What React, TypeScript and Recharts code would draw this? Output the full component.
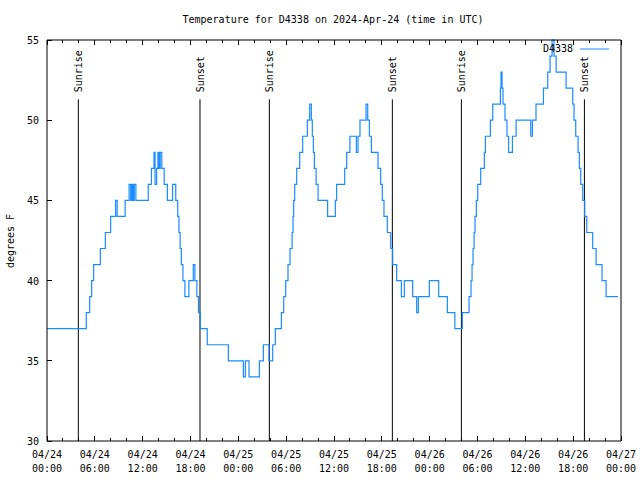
import { LineChart, Line, XAxis, YAxis, ReferenceLine, Legend } from "recharts";

// hours since 2024-04-24 00:00 UTC where the reading changes, and the reading (deg F)
const hours = [
  0, 4.93, 5.35, 5.6, 5.85, 6.69, 7.32, 7.98, 8.61, 8.8, 9.8, 10.3, 10.5, 10.65, 10.8, 10.95, 11.15,
  12.7, 13.1, 13.42, 13.55, 13.75, 13.92, 14.05, 14.2, 14.4, 14.7, 15.1, 15.75, 16.15, 16.4, 16.55,
  16.7, 16.85, 17.05, 17.3, 17.8, 18.35, 18.55, 18.8, 19.0, 19.25, 20.1, 22.75,
  24.63, 24.88, 25.34, 26.64, 27.14, 27.85, 28.31, 28.64, 29.4, 29.69, 29.94, 30.23, 30.48, 30.74,
  30.86, 30.94, 31.07, 31.32, 31.7, 32.07, 32.66, 32.95, 33.16, 33.28, 33.41, 33.54, 33.75, 34.0,
  35.2, 36.17, 36.33, 37.34, 37.59, 38.0, 38.8, 39.01, 39.26, 40.02, 40.23, 40.44, 40.69, 41.52,
  41.85, 42.06, 42.27, 42.69, 43.11, 43.36, 43.86, 44.45, 44.82, 45.87, 46.37, 46.58, 47.96,
  49.13, 50.22, 51.16, 52.1, 52.94, 53.19, 53.32, 53.44, 53.57, 53.69, 53.86, 54.03, 54.4, 54.86,
  54.99, 55.62, 55.91, 56.87, 56.95, 57.08, 57.2, 57.45, 57.7, 57.9, 58.38, 58.84, 60.68, 60.89,
  61.34, 62.27, 62.81, 63.1, 63.35, 63.6, 63.86, 65.11, 65.95, 66.11, 66.32, 66.61, 66.78, 66.95,
  67.2, 67.45, 67.7, 68.45, 68.87, 69.62, 70.13, 71.63,
];
const temps = [
  37, 38, 39, 40, 41, 42, 43, 44, 45, 44, 45, 46, 45, 46, 45, 46, 45,
  46, 47, 48, 46, 47, 48, 47, 48, 47, 46, 45, 46, 45, 44, 43,
  42, 41, 40, 39, 40, 41, 40, 39, 38, 37, 36, 35,
  34, 35, 34, 35, 36, 35, 36, 37, 38, 39, 40, 41, 42, 43,
  44, 45, 46, 47, 48, 49, 50, 51, 50, 49, 48, 47, 46, 45,
  44, 45, 46, 47, 48, 49, 48, 49, 50, 51, 50, 49, 48, 47,
  46, 45, 44, 43, 42, 41, 40, 39, 40, 39, 38, 39, 40,
  39, 38, 37, 38, 39, 40, 41, 42, 43, 44, 45, 46, 47, 48,
  49, 50, 51, 52, 53, 52, 51, 50, 49, 48, 49, 50, 49, 50,
  51, 52, 53, 54, 55, 54, 53, 52, 51, 50, 49, 48, 47, 46,
  45, 44, 43, 42, 41, 40, 39, 39,
];

const sunHours = [3.93, 19.19, 27.89, 43.32, 51.98, 67.41];
const sunNames = ["Sunrise", "Sunset", "Sunrise", "Sunset", "Sunrise", "Sunset"];

const xTicks = Array.from({ length: 37 }, (_, i) => i * 2);
const majorTicks = [0, 6, 12, 18, 24, 30, 36, 42, 48, 54, 60, 66, 72];
const dateLabels = ["04/24", "04/24", "04/24", "04/24", "04/25", "04/25", "04/25", "04/25", "04/26", "04/26", "04/26", "04/26", "04/27"];
const timeLabels = ["00:00", "06:00", "12:00", "18:00", "00:00", "06:00", "12:00", "18:00", "00:00", "06:00", "12:00", "18:00", "00:00"];
const yTicks = [30, 35, 40, 45, 50, 55];

const data = hours.map((h, i) => ({ h, t: temps[i] }));

const FONT = "'DejaVu Sans Mono', monospace";
const BLUE = "#1a8cff";
const markerTop = 51.3;

function BottomTick({ x, y, payload }: any) {
  const i = majorTicks.indexOf(payload.value);
  return (
    <g>
      <line x1={x} x2={x} y1={y} y2={y - (i >= 0 ? 5 : 3)} stroke="#000" shapeRendering="crispEdges" />
      {i >= 0 && (
        <text x={x} y={y + 17} textAnchor="middle" fontSize={10} fontFamily={FONT} fill="#000">
          <tspan x={x}>{dateLabels[i]}</tspan>
          <tspan x={x} dy={14}>{timeLabels[i]}</tspan>
        </text>
      )}
    </g>
  );
}

function TopTick({ x, y, payload }: any) {
  const major = majorTicks.includes(payload.value);
  return <line x1={x} x2={x} y1={y} y2={y + (major ? 5 : 3)} stroke="#000" shapeRendering="crispEdges" />;
}

function LeftTick({ x, y, payload }: any) {
  return (
    <g>
      <line x1={x} x2={x + 5} y1={y} y2={y} stroke="#000" shapeRendering="crispEdges" />
      <text x={x - 8} y={y + 4} textAnchor="end" fontSize={10} fontFamily={FONT} fill="#000">
        {payload.value}
      </text>
    </g>
  );
}

function RightTick({ x, y }: any) {
  return <line x1={x} x2={x - 5} y1={y} y2={y} stroke="#000" shapeRendering="crispEdges" />;
}

function sunLabel(text: string) {
  return (props: any) => {
    const vb = props.viewBox || {};
    return (
      <text
        transform={`translate(${vb.x + 4},${vb.y - 7}) rotate(-90)`}
        fontSize={10}
        fontFamily={FONT}
        fill="#000"
      >
        {text}
      </text>
    );
  };
}

function LegendBox() {
  return (
    <div style={{ display: "flex", alignItems: "center", fontFamily: FONT, fontSize: 10, color: "#000" }}>
      <span>D4338</span>
      <svg width={36} height={10} style={{ marginLeft: 6 }}>
        <line x1={1} x2={30} y1={5} y2={5} stroke={BLUE} />
      </svg>
    </div>
  );
}

export default function App() {
  return (
    <div style={{ position: "absolute", left: 0, top: 0, width: 640, height: 480, background: "#fff" }}>
      <LineChart width={640} height={480} data={data} margin={{ top: 39, right: 18, bottom: 38, left: 46 }}>
        <XAxis
          xAxisId="bottom"
          dataKey="h"
          type="number"
          domain={[0, 72]}
          ticks={xTicks}
          interval={0}
          height={1}
          tickSize={0}
          tickMargin={0}
          tickLine={false}
          tick={BottomTick}
          axisLine={{ stroke: "#000" }}
        />
        <XAxis
          xAxisId="top"
          orientation="top"
          dataKey="h"
          type="number"
          domain={[0, 72]}
          ticks={xTicks}
          interval={0}
          height={1}
          tickSize={0}
          tickMargin={0}
          tickLine={false}
          tick={TopTick}
          axisLine={{ stroke: "#000" }}
        />
        <YAxis
          yAxisId="left"
          type="number"
          domain={[30, 55]}
          ticks={yTicks}
          interval={0}
          width={1}
          tickSize={0}
          tickMargin={0}
          tickLine={false}
          tick={LeftTick}
          axisLine={{ stroke: "#000" }}
        />
        <YAxis
          yAxisId="right"
          orientation="right"
          type="number"
          domain={[30, 55]}
          ticks={yTicks}
          interval={0}
          width={1}
          tickSize={0}
          tickMargin={0}
          tickLine={false}
          tick={RightTick}
          axisLine={{ stroke: "#000" }}
        />
        {sunHours.map((h, i) => (
          <ReferenceLine
            key={i}
            xAxisId="bottom"
            yAxisId="left"
            segment={[{ x: h, y: 30 }, { x: h, y: markerTop }]}
            stroke="#000"
            strokeWidth={1}
            label={sunLabel(sunNames[i])}
          />
        ))}
        <Line
          xAxisId="bottom"
          yAxisId="left"
          type="stepAfter"
          dataKey="t"
          stroke={BLUE}
          strokeWidth={1.2}
          dot={false}
          isAnimationActive={false}
        />
        <Legend
          layout="horizontal"
          verticalAlign="middle"
          align="center"
          content={LegendBox}
          wrapperStyle={{ top: 43, left: 543, width: "auto", height: "auto" }}
        />
        <text x={333} y={23} textAnchor="middle" fontSize={10} fontFamily={FONT} fill="#000">
          Temperature for D4338 on 2024-Apr-24 (time in UTC)
        </text>
        <text transform="translate(14,241) rotate(-90)" textAnchor="middle" fontSize={10} fontFamily={FONT} fill="#000">
          degrees F
        </text>
      </LineChart>
    </div>
  );
}
